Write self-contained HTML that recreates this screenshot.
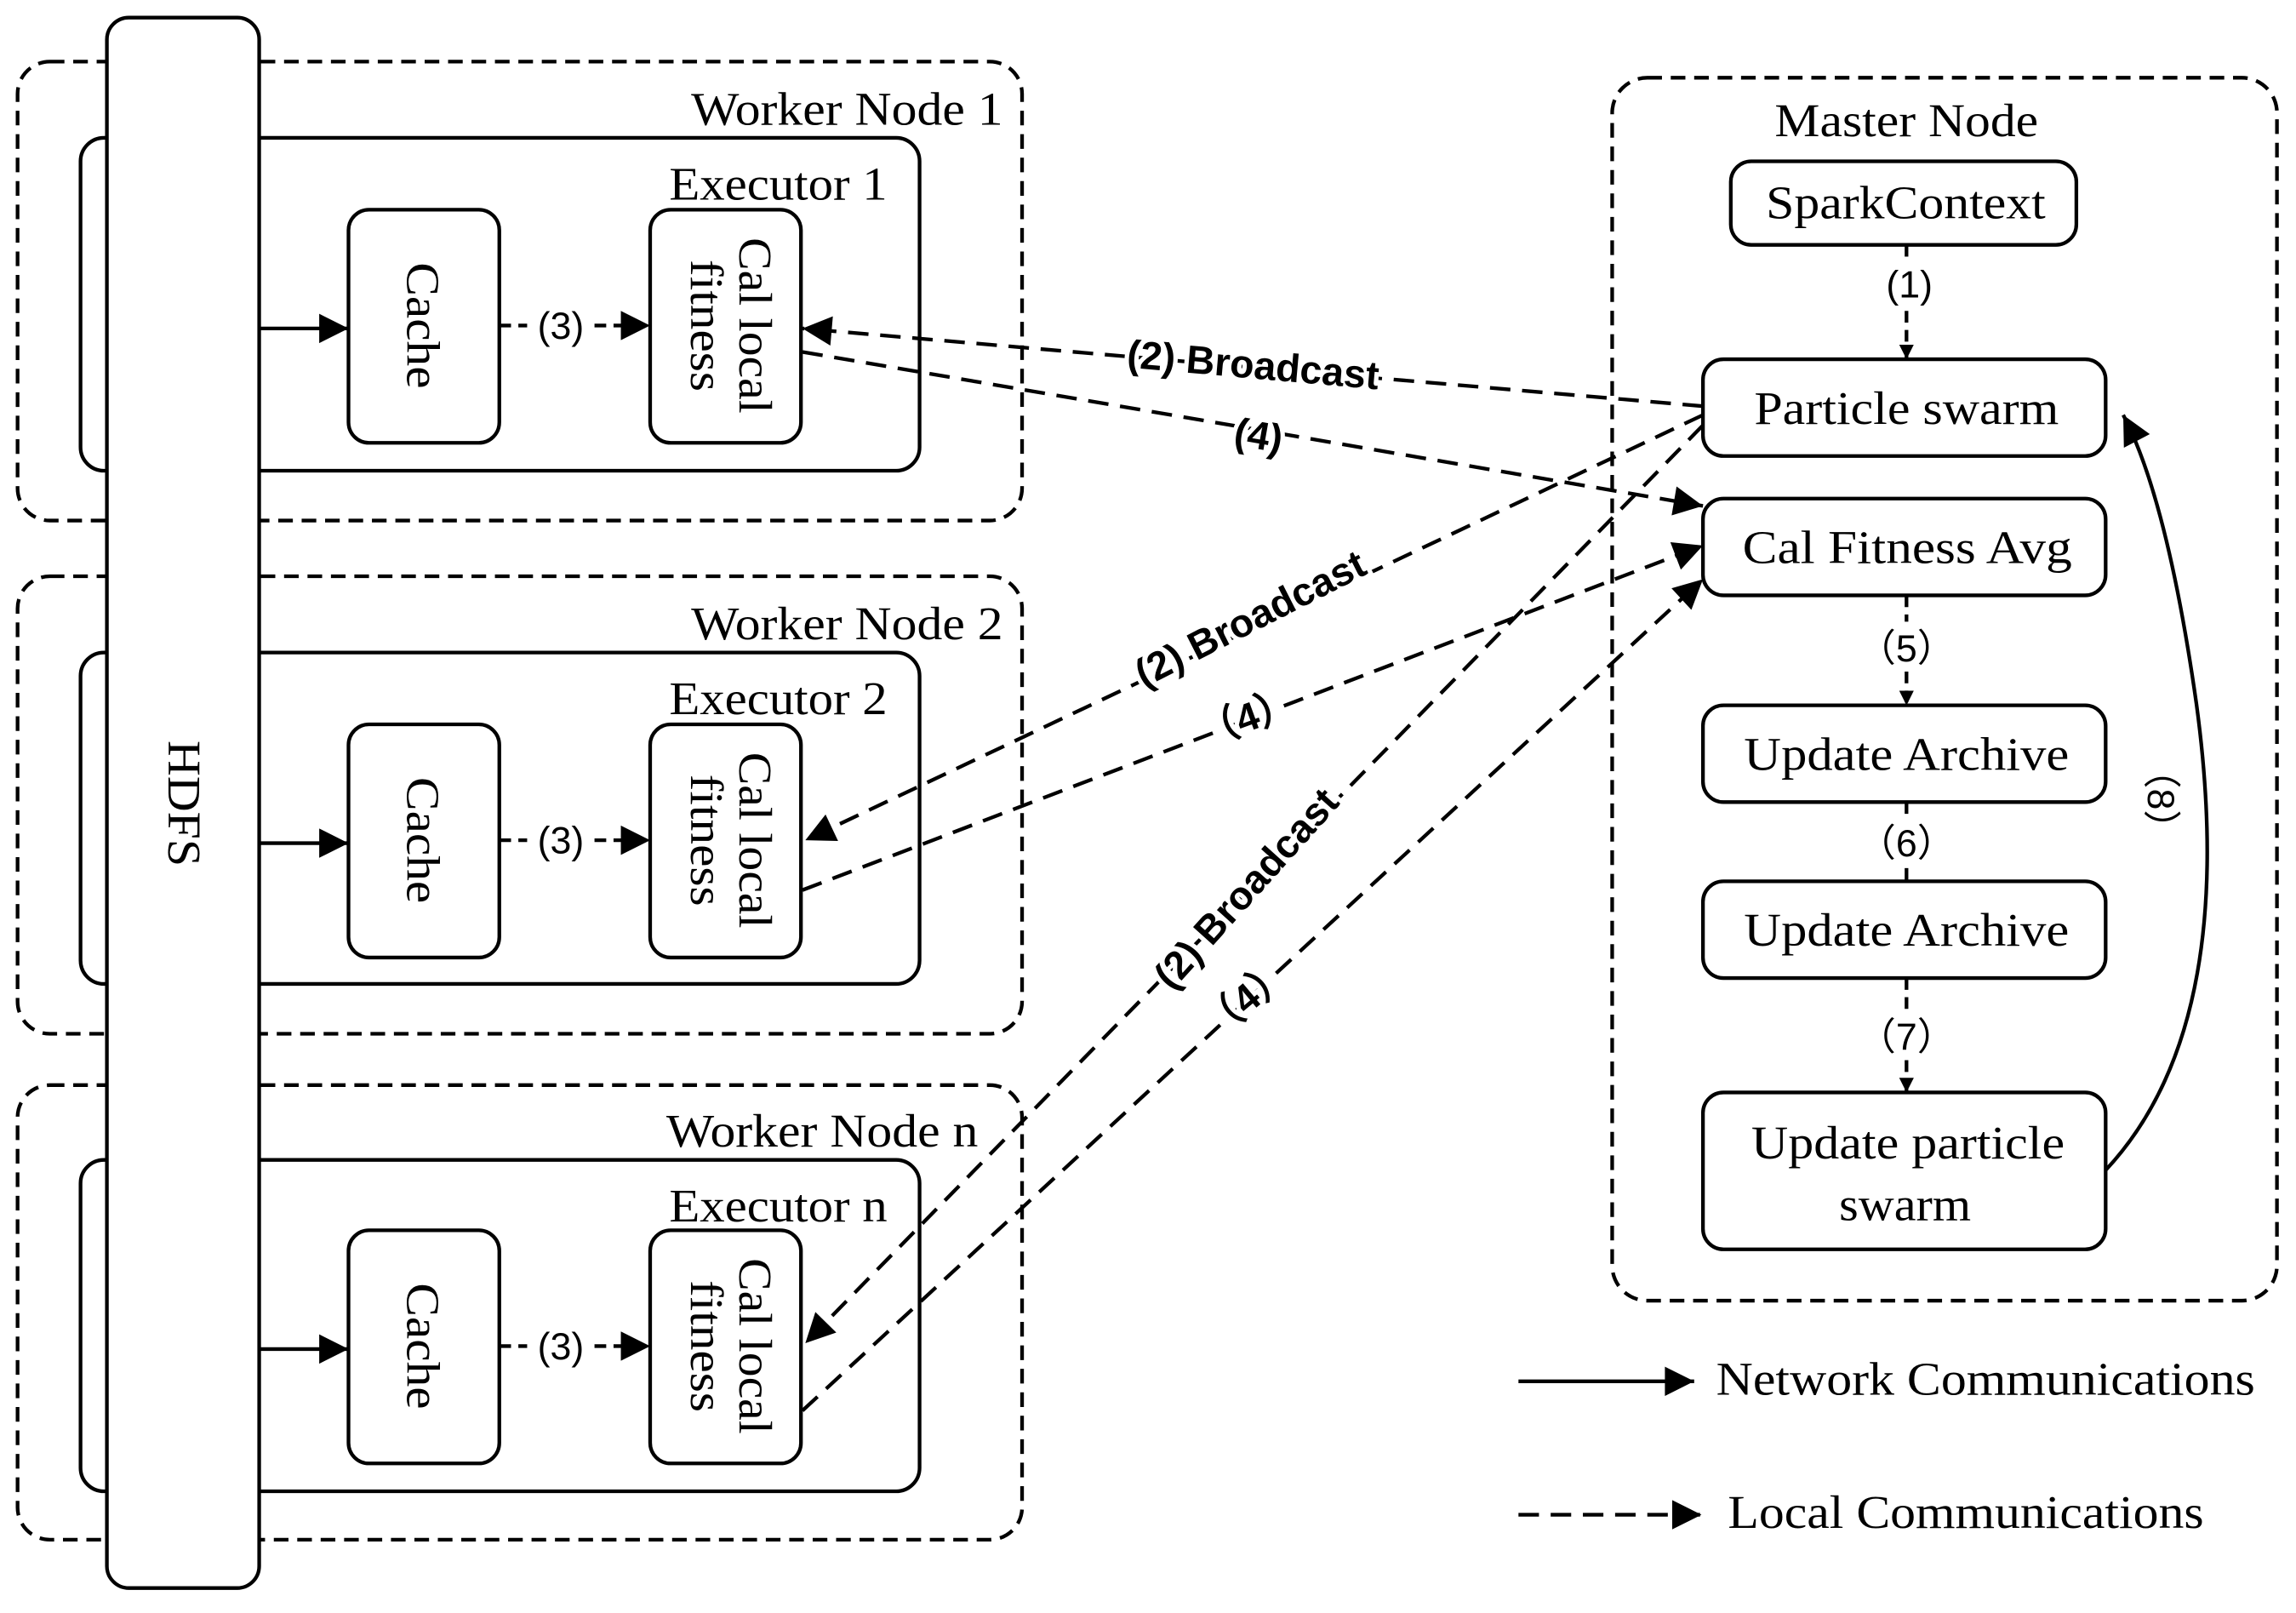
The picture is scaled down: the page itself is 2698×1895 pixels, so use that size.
<!DOCTYPE html>
<html><head><meta charset="utf-8"><style>html,body{margin:0;padding:0;background:#fff}svg{display:block}</style></head>
<body>
<svg width="2698" height="1895" viewBox="0 0 1568 1100" preserveAspectRatio="none" xmlns="http://www.w3.org/2000/svg">
<defs>
<marker id="a" viewBox="0 0 10 10" refX="10" refY="5" markerWidth="10" markerHeight="10" markerUnits="userSpaceOnUse" orient="auto"><path d="M0,0 L10,5 L0,10 z" fill="#000"/></marker>
<marker id="b" viewBox="0 0 10 10" refX="10" refY="5" markerWidth="28" markerHeight="20" markerUnits="userSpaceOnUse" orient="auto"><path d="M0,0 L10,5 L0,10 z" fill="#000"/></marker>
</defs>
<g font-family="Liberation Serif, serif" font-size="32" fill="#000" lengthAdjust="spacingAndGlyphs">
<g stroke="#000" stroke-width="2.5" fill="none">
<rect x="12" y="42" width="686" height="313" rx="22" stroke-dasharray="10,6"/>
<rect x="12" y="393" width="686" height="312" rx="22" stroke-dasharray="10,6"/>
<rect x="12" y="740" width="686" height="310" rx="22" stroke-dasharray="10,6"/>
<rect x="55" y="94" width="573" height="227" rx="16"/>
<rect x="55" y="445" width="573" height="226" rx="16"/>
<rect x="55" y="791" width="573" height="226" rx="16"/>
<rect x="1101" y="53" width="454" height="834" rx="24" stroke-dasharray="10,6"/>
</g>
<rect x="73" y="12" width="104" height="1071" rx="15" fill="#fff" stroke="#000" stroke-width="2.5"/>
<text transform="translate(115,548) rotate(90)" text-anchor="middle" textLength="86" lengthAdjust="spacingAndGlyphs">HDFS</text>
<text x="472" y="85" textLength="213" lengthAdjust="spacingAndGlyphs">Worker Node 1</text>
<text x="472" y="436" textLength="213" lengthAdjust="spacingAndGlyphs">Worker Node 2</text>
<text x="455" y="782" textLength="213" lengthAdjust="spacingAndGlyphs">Worker Node n</text>
<text x="457" y="136" textLength="149" lengthAdjust="spacingAndGlyphs">Executor 1</text>
<text x="457" y="487" textLength="149" lengthAdjust="spacingAndGlyphs">Executor 2</text>
<text x="457" y="833" textLength="149" lengthAdjust="spacingAndGlyphs">Executor n</text>
<g id="ex">
<rect x="238" y="143" width="103" height="159" rx="14" fill="#fff" stroke="#000" stroke-width="2.5"/>
<rect x="444" y="143" width="103" height="159" rx="14" fill="#fff" stroke="#000" stroke-width="2.5"/>
<text transform="translate(278,222) rotate(90)" text-anchor="middle" textLength="86" lengthAdjust="spacingAndGlyphs">Cache</text>
<text transform="translate(505,222) rotate(90)" text-anchor="middle" textLength="120" lengthAdjust="spacingAndGlyphs">Cal local</text>
<text transform="translate(472,222) rotate(90)" text-anchor="middle" textLength="90" lengthAdjust="spacingAndGlyphs">fitness</text>
<line x1="177" y1="224" x2="238" y2="224" stroke="#000" stroke-width="2.5" marker-end="url(#b)"/>
<line x1="341" y1="222" x2="360" y2="222" stroke="#000" stroke-width="2.5" stroke-dasharray="8,5"/>
<line x1="406" y1="222" x2="444" y2="222" stroke="#000" stroke-width="2.5" stroke-dasharray="8,5" marker-end="url(#b)"/>
<text x="383" y="231" text-anchor="middle" font-family="Liberation Sans, sans-serif" font-size="26">(3)</text>
</g>
<use href="#ex" y="351"/>
<use href="#ex" y="696"/>
<text x="1212" y="93" textLength="180" lengthAdjust="spacingAndGlyphs">Master Node</text>
<g fill="#fff" stroke="#000" stroke-width="2.5">
<rect x="1182" y="110" width="236" height="57" rx="14"/>
<rect x="1163" y="245" width="275" height="66" rx="14"/>
<rect x="1163" y="340" width="275" height="66" rx="14"/>
<rect x="1163" y="481" width="275" height="66" rx="14"/>
<rect x="1163" y="601" width="275" height="66" rx="14"/>
<rect x="1163" y="745" width="275" height="107" rx="14"/>
</g>
<text x="1206" y="149" textLength="191" lengthAdjust="spacingAndGlyphs">SparkContext</text>
<text x="1198" y="289" textLength="208" lengthAdjust="spacingAndGlyphs">Particle swarm</text>
<text x="1190" y="384" textLength="225" lengthAdjust="spacingAndGlyphs">Cal Fitness Avg</text>
<text x="1191" y="525" textLength="222" lengthAdjust="spacingAndGlyphs">Update Archive</text>
<text x="1191" y="645" textLength="222" lengthAdjust="spacingAndGlyphs">Update Archive</text>
<text x="1196" y="790" textLength="214" lengthAdjust="spacingAndGlyphs">Update particle</text>
<text x="1256" y="832" textLength="90" lengthAdjust="spacingAndGlyphs">swarm</text>
<g stroke="#000" stroke-width="2.5" stroke-dasharray="8,5" fill="none">
<line x1="1302" y1="167" x2="1302" y2="178"/>
<line x1="1302" y1="212" x2="1302" y2="245" marker-end="url(#a)"/>
<line x1="1302" y1="406" x2="1302" y2="424"/>
<line x1="1302" y1="458" x2="1302" y2="481" marker-end="url(#a)"/>
<line x1="1302" y1="547" x2="1302" y2="556"/>
<line x1="1302" y1="592" x2="1302" y2="601"/>
<line x1="1302" y1="667" x2="1302" y2="688"/>
<line x1="1302" y1="723" x2="1302" y2="745" marker-end="url(#a)"/>
</g>
<g font-family="Liberation Sans, sans-serif" font-size="26" text-anchor="middle">
<text x="1304" y="203">(1)</text>
<text x="1302" y="451">（5）</text>
<text x="1302" y="584">（6）</text>
<text x="1302" y="716">（7）</text>
<text transform="translate(1467,545) rotate(90)">（8）</text>
</g>
<path d="M1438,798 Q1530,700 1500,480 Q1480,340 1450,283" fill="none" stroke="#000" stroke-width="2.5" marker-end="url(#b)"/>
<g stroke="#000" stroke-width="2.5" stroke-dasharray="14,8" fill="none">
<line x1="1163" y1="277" x2="548" y2="224" marker-end="url(#b)"/>
<line x1="548" y1="240" x2="1163" y2="345" marker-end="url(#b)"/>
<line x1="1163" y1="283" x2="550" y2="573" marker-end="url(#b)"/>
<line x1="548" y1="607" x2="1163" y2="372" marker-end="url(#b)"/>
<line x1="1163" y1="290" x2="550" y2="916" marker-end="url(#b)"/>
<line x1="548" y1="962" x2="1163" y2="395" marker-end="url(#b)"/>
</g>
<g font-family="Liberation Sans, sans-serif" font-size="27" font-weight="bold" text-anchor="middle" stroke="#fff" stroke-width="6" paint-order="stroke" fill="#000">
<text transform="translate(855,258) rotate(5)">(2) Broadcast</text>
<text transform="translate(858,306) rotate(10)">(4)</text>
<text transform="translate(858,430) rotate(-27)">(2) Broadcast</text>
<text transform="translate(855,498) rotate(-20)">（4）</text>
<text transform="translate(858,612) rotate(-48)">(2) Broadcast</text>
<text transform="translate(857,688) rotate(-40)">（4）</text>
</g>
<line x1="1037" y1="942" x2="1157" y2="942" stroke="#000" stroke-width="2.5" marker-end="url(#b)"/>
<text x="1172" y="951" textLength="368" lengthAdjust="spacingAndGlyphs">Network Communications</text>
<line x1="1037" y1="1033" x2="1162" y2="1033" stroke="#000" stroke-width="2.5" stroke-dasharray="14,8" marker-end="url(#b)"/>
<text x="1180" y="1042" textLength="325" lengthAdjust="spacingAndGlyphs">Local Communications</text>
</g>
</svg>
</body></html>
